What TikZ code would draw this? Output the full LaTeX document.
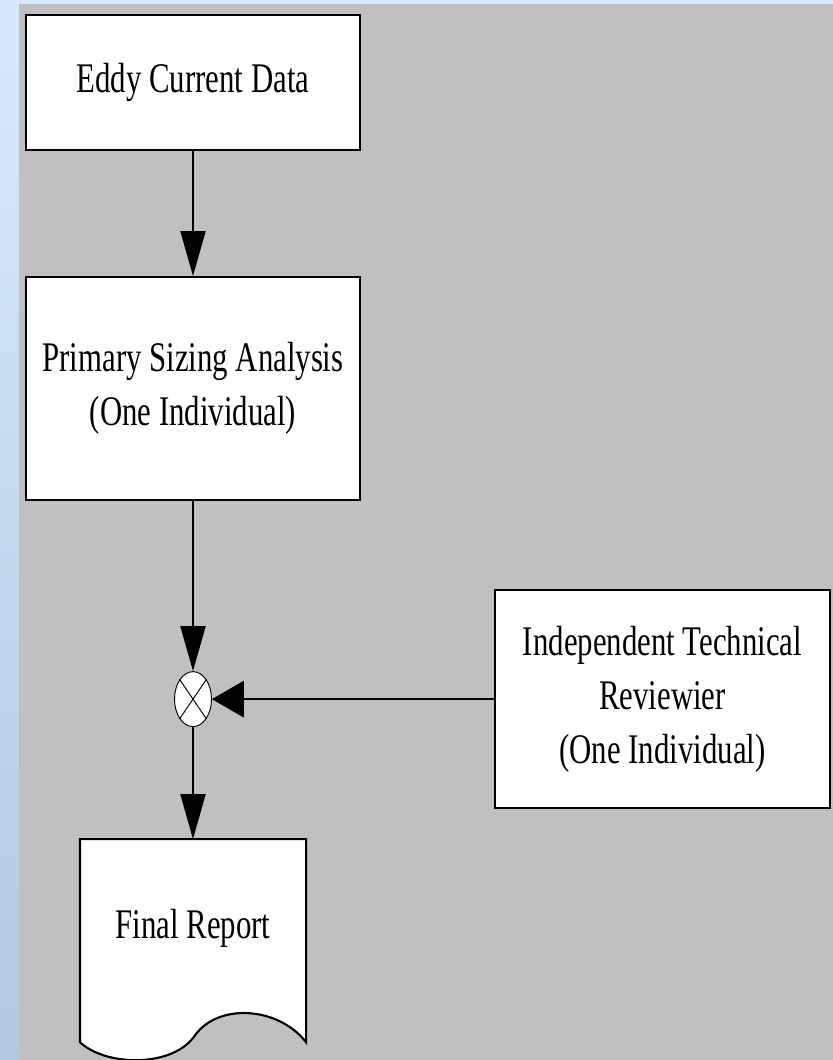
\documentclass[tikz,border=0pt]{standalone}
\usepackage{fontspec}
\setmainfont[FakeStretch=0.73]{Liberation Serif}
\usetikzlibrary{shapes.geometric, arrows.meta, positioning, backgrounds}
\definecolor{panelgray}{HTML}{C0C0C0}
\definecolor{sidetop}{HTML}{D8EAFC}
\definecolor{sidebottom}{HTML}{B2C8DF}
\tikzstyle{object} = [
text centered,
draw=black,
line width=1.8pt,
fill=white,
text=black,
rectangle,
font=\fontsize{36}{46}\selectfont,
align=center]
\tikzstyle{junction} = [
draw=black,
line width=0.8pt,
fill=white,
ellipse,
inner sep=0pt,
minimum width=1.11cm,
minimum height=1.65cm]
\tikzstyle{arrow} = [
draw=black,
line width=1.6pt,
-{Triangle[length=1.35cm, width=0.75cm]}]
\tikzstyle{sidearrow} = [
draw=black,
line width=1.6pt,
-{Triangle[length=0.96cm, width=1.1cm]}]

\begin{document}
\begin{tikzpicture}

\useasboundingbox (0,0) rectangle (24.99,-31.8);

\begin{scope}[on background layer]
\shade[top color=sidetop, bottom color=sidebottom] (0,0) rectangle (24.99,-31.8);
\fill[panelgray] (0.57,-0.12) rectangle (24.99,-31.8);
\end{scope}

\node[object, minimum width=10.02cm, minimum height=4.05cm] at (5.79,-2.475) (eddy) {Eddy Current Data};
\node[object, below=3.75cm of eddy, minimum width=10.02cm, minimum height=6.69cm] (primary) {Primary Sizing Analysis\\(One Individual)};
\node[junction, below=5.1cm of primary] (merge) {};
\node[object, right=8.46cm of merge, minimum width=10.05cm, minimum height=6.54cm] (reviewer) {Independent Technical\\Reviewier\\(One Individual)};
\node[object, draw=none, fill=none, below=3.36cm of merge, minimum width=6.72cm, minimum height=6.03cm, text depth=1cm] (report) {Final Report};

\draw[line width=0.8pt] (merge.north west) -- (merge.south east);
\draw[line width=0.8pt] (merge.north east) -- (merge.south west);

\draw[arrow] (eddy) -- (primary);
\draw[arrow] (primary) -- (merge);
\draw[sidearrow] (reviewer) -- (merge);
\draw[arrow] (merge) -- (report);

\begin{scope}[on background layer]
\draw[line width=1.8pt, fill=white] (report.south west) -- (report.north west) -- (report.north east) -- (report.south east)
    .. controls +(-0.81,1.05) and +(0.72,0.99) .. ++(-3.33,0.21)
    .. controls +(-0.63,-0.96) and +(0.81,-0.75) .. (report.south west) -- cycle;
\end{scope}

\end{tikzpicture}
\end{document}
